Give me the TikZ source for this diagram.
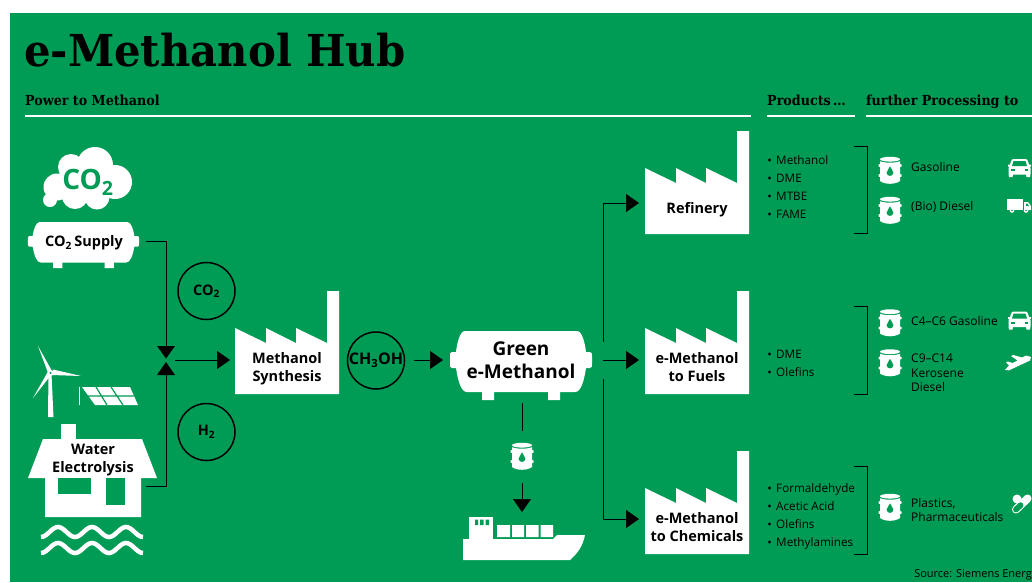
\documentclass[tikz,border=0pt]{standalone}
\usepackage{fontspec}
\setmainfont{Open Sans}
\newfontfamily\headfont[FakeStretch=0.92]{DejaVu Serif}
\newfontfamily\titlefont[FakeStretch=0.95]{DejaVu Serif}
\usepackage{tikz}
\usetikzlibrary{arrows.meta}
\definecolor{hubgreen}{HTML}{009B55}
\newcommand{\sub}[1]{\textsubscript{#1}}
\tikzset{
	flow/.style={black,line width=0.6pt},
	flowtip/.style={flow,-{Triangle[length=13pt,width=18pt]}},
	boxtext/.style={align=center,inner sep=0pt,font=\fontsize{14.5}{18}\selectfont\bfseries},
	listtext/.style={align=left,anchor=base west,inner sep=0pt,font=\fontsize{11.7}{18}\selectfont},
	sidetext/.style={align=left,anchor=west,inner sep=0pt,font=\fontsize{12}{14.5}\selectfont},
	headtext/.style={anchor=base west,inner sep=0pt,font=\headfont\bfseries\fontsize{13.8}{14}\selectfont},
	headline/.style={white,line width=2pt},
	ring/.style={draw=black,line width=1.5pt,circle,minimum size=57pt,inner sep=0pt,font=\fontsize{14.5}{14.5}\selectfont\bfseries},
	factory/.pic={
		\fill[white] (0,0)--(0,-66)--(31,-51)--(31,-66)--(61,-51)--(61,-66)--(92,-51)--(92,-103)--(104,-103)--(104,0)--cycle;
	},
	tank/.pic={
		\fill[white] (-56,0)--(56,0) .. controls (61,0) and (64,12) .. (65,21)--(69,21)
			.. controls (71,21) and (71,23) .. (71,25)--(71,33) .. controls (71,35) and (71,37) .. (69,37)--(65,37)
			.. controls (63,50) and (60,61) .. (54,61)--(39,61)--(39,69)--(27,69)--(27,61)--(-27,61)--(-27,69)--(-39,69)--(-39,61)--(-54,61)
			.. controls (-60,61) and (-63,50) .. (-65,37)--(-69,37) .. controls (-71,37) and (-71,35) .. (-71,33)--(-71,25)
			.. controls (-71,23) and (-71,21) .. (-69,21)--(-65,21) .. controls (-64,12) and (-61,0) .. (-56,0)--cycle;
	},
	barrel/.pic={
		\fill[white] (0,-11.3) ellipse (10 and 2.4);
		\fill[white] (-10,-9.3) .. controls (-5,-7.3) and (5,-7.3) .. (10,-9.3)--(10,-6.5)--(11.5,-6)--(11.5,-4)--(10,-3.5)--(10,3.5)--(11.5,4)--(11.5,6)--(10,6.5)--(10,10.5)
			.. controls (5,14.2) and (-5,14.2) .. (-10,10.5)--(-10,6.5)--(-11.5,6)--(-11.5,4)--(-10,3.5)--(-10,-3.5)--(-11.5,-4)--(-11.5,-6)--(-10,-6.5)--cycle;
		\fill[hubgreen] (0,-4.2) .. controls (0.8,-1.5) and (3.4,0) .. (3.4,2.2) .. controls (3.4,4.4) and (1.6,5.4) .. (0,5.4) .. controls (-1.6,5.4) and (-3.4,4.4) .. (-3.4,2.2) .. controls (-3.4,0) and (-0.8,-1.5) .. (0,-4.2)--cycle;
	},
	car/.pic={
		\fill[white] (-6,-9) -- (6,-9) .. controls (7.5,-9) and (8,-8) .. (8.5,-6.5)--(9.5,-3.5)--(11.5,-3.5)--(11.5,-1.5)--(10,-1.5)--(11,0)--(11,6)--(10.5,9)--(7,9)--(6.5,6.5)--(-6.5,6.5)--(-7,9)--(-10.5,9)--(-11,6)--(-11,0)--(-10,-1.5)--(-11.5,-1.5)--(-11.5,-3.5)--(-9.5,-3.5)--(-8.5,-6.5) .. controls (-8,-8) and (-7.5,-9) .. (-6,-9)--cycle;
		\fill[hubgreen] (-6,-7) -- (6,-7)--(7.5,-2)--(-7.5,-2)--cycle;
		\fill[hubgreen] (-8.5,1) rectangle (-5,3);
		\fill[hubgreen] (8.5,1) rectangle (5,3);
	},
	truck/.pic={
		\fill[white] (-12,-7) rectangle (4,4);
		\fill[white] (5,-4)--(9,-4)--(12,0)--(12,4)--(5,4)--cycle;
		\fill[hubgreen] (7,-2.5)--(8.5,-2.5)--(10,0)--(7,0)--cycle;
		\fill[white] (-7,4.5) circle (2.3);
		\fill[white] (7,4.5) circle (2.3);
		\fill[hubgreen] (-7,4.5) circle (0.9);
		\fill[hubgreen] (7,4.5) circle (0.9);
	},
	plane/.pic={
		\fill[white] (-13,7.5)--(-9,7.8)--(12,-2)--(13,-5.5)--(8,-7)--(4,-5)--(-4.5,-7.5)--(-7,-6.5)--(-0.5,-2)--(-5.5,0.5)--(-10,-1)--(-12,0)--(-9,3)--cycle;
	},
	pill/.pic={
		\fill[white] (-4.5,-5.5) circle (4.5);
		\draw[white,line width=8pt,line cap=round] (-5.5,5)--(6,-6);
		\draw[hubgreen,line width=5.8pt,line cap=round] (-5.5,5)--(-1,0.7);
	},
	wave/.pic={
		\draw[white,line width=4.5pt] plot[domain=0:3,samples=61] ({34*\x},{5*cos(360*\x)});
	}
}
\begin{document}
\begin{tikzpicture}[x=1pt,y=-1pt]
	\useasboundingbox (0,0) rectangle (1032,582);
	\fill[white] (0,0) rectangle (1032,582);
	\fill[hubgreen] (10,13) rectangle (1032,582);

	%heads
	\node[anchor=base west,inner sep=0pt,font=\titlefont\bfseries\fontsize{44}{44}\selectfont] (title) at (24,66) {e-Methanol Hub};
	\node[headtext] (powerhead) at (25,105.5) {Power to Methanol};
	\node[headtext] (producthead) at (767,105.5) {Products\,…};
	\node[headtext] (furtherhead) at (866,105.5) {further Processing to};
	\draw[headline] (25,115.5)--(751,115.5);
	\draw[headline] (767,115.5)--(855,115.5);
	\draw[headline] (866,115.5)--(1032,115.5);

	%cloud
	\fill[white] (95,165) circle (18) (71,167) circle (13) (115,182) circle (17) (97,197) circle (12.5) (57,187) circle (13.5) (75,196) circle (13) (50,200) circle (7) (85,180) circle (20);
	\node[inner sep=0pt,text=hubgreen,font=\fontsize{28}{28}\selectfont\bfseries] (cloudgas) at (88,182.5) {CO\sub{2}};

	%tanks
	\pic[xscale=0.782,yscale=0.667] at (83.5,222) {tank};
	\node[boxtext] (supply) at (84,243) {CO\sub{2}\,Supply};
	\pic at (521,331) {tank};
	\node[boxtext,font=\fontsize{19}{22.5}\selectfont\bfseries] (green) at (521,360) {Green\\e-Methanol};

	%wind and sun
	\fill[white] (48.5,374)--(51.5,374)--(53.5,417)--(48,417)--cycle;
	\fill[white] (38,346)--(52,371)--(48.5,374)--cycle;
	\fill[white] (81,376)--(53,369.5)--(52,375)--cycle;
	\fill[white] (33,398)--(48,371.5)--(51,375)--cycle;
	\fill[white] (50.5,373) circle (3);
	\fill[hubgreen] (50.5,373) circle (1.1);
	\fill[white] (78.5,387) rectangle (80,405);
	\fill[white] (82,387)--(130,387)--(138,405)--(95,405)--cycle;
	\draw[hubgreen,line width=1.2pt] (86.5,396)--(134,396) (96,387)--(107,405) (111,387)--(123,405);

	%house
	\fill[white] (61,424) rectangle (76,441);
	\fill[white] (43,439)--(142,439)--(157,478)--(141,478)--(141,517)--(45,517)--(45,478)--(28,478)--cycle;
	\fill[hubgreen] (58,478) rectangle (91,494);
	\fill[hubgreen] (106,478) rectangle (125,505);
	\node[boxtext] (water) at (93,460) {Water\\Electrolysis};
	\pic at (41,532) {wave};
	\pic at (41,548) {wave};

	%factories
	\pic at (235,394) {factory};
	\pic at (645,234) {factory};
	\pic at (645,394) {factory};
	\pic at (645,554) {factory};
	\node[boxtext] (synthesis) at (287,369) {Methanol\\Synthesis};
	\node[boxtext] (refinery) at (697,210) {Refinery};
	\node[boxtext] (fuels) at (697,367) {e-Methanol\\to Fuels};
	\node[boxtext] (chemicals) at (697,527) {e-Methanol\\to Chemicals};

	%rings
	\node[ring] (cotwo) at (206.5,291) {CO\sub{2}};
	\node[ring] (htwo) at (206.5,432) {H\sub{2}};
	\node[ring,font=\fontsize{16}{16}\selectfont\bfseries] (methanol) at (376,360.5) {CH\sub{3}OH};

	%ship
	\pic at (522,456.5) {barrel};
	\fill[white] (469,517) rectangle (493,540);
	\fill[hubgreen] (475,519.5) rectangle (478,525) (480,519.5) rectangle (483.5,525) (485.5,519.5) rectangle (489,525);
	\fill[white] (497,525) rectangle (510,537) (512,525) rectangle (524,537) (526,525) rectangle (538.5,537) (540.5,525) rectangle (553,537);
	\fill[white] (463,539)--(553,539)--(557,535)--(585,535) .. controls (583,546) and (577,554) .. (570,560)--(463,560)--cycle;

	%free ends
	\coordinate (supplyout) at (146,241);
	\coordinate (waterout) at (146,486);
	\coordinate (valvetop) at (166,346);
	\coordinate (valvebot) at (166,375);
	\coordinate (valveout) at (175,360);
	\coordinate (synthin) at (230,360);
	\coordinate (methout) at (414,360);
	\coordinate (greenin) at (443,360);
	\coordinate (greenout) at (522,403);
	\coordinate (barrelin) at (522,431);
	\coordinate (barrelout) at (522,483);
	\coordinate (shipin) at (522,512);
	\coordinate (forktop) at (603,342);
	\coordinate (forkmid) at (603,360);
	\coordinate (forkbot) at (603,379);
	\coordinate (refin) at (639,203);
	\coordinate (fuelin) at (639,360);
	\coordinate (chemin) at (639,519);

	%lines
	\draw[flow] (supplyout)-|(valvetop);		%supply--valve
	\draw[flow] (waterout)-|(valvebot);			%water--valve
	\fill[black] (157,346)--(175,346)--(166,358.5)--cycle;
	\fill[black] (157,375)--(175,375)--(166,362)--cycle;
	\draw[flowtip] (valveout)--(synthin);		%valve--synthesis
	\draw[flowtip] (methout)--(greenin);		%methanol--green
	\draw[flow] (greenout)--(barrelin);			%green--barrel
	\draw[flowtip] (barrelout)--(shipin);		%barrel--ship
	\draw[flowtip] (forktop)|-(refin);			%fork--refinery
	\draw[flowtip] (forkmid)--(fuelin);			%fork--fuels
	\draw[flowtip] (forkbot)|-(chemin);			%fork--chemicals

	%products
	\foreach \name/\ypos/\word in {pa/164/Methanol,pb/182/DME,pc/200/MTBE,pd/218/FAME,pe/358/DME,pf/376/Olefins,pg/492/Formaldehyde,ph/510/Acetic Acid,pi/528/Olefins,pj/546/Methylamines}{
		\node[listtext] (\name) at (776,\ypos) {\word};
		\fill[black] (769.5,\ypos-4) circle (1.6);
	}

	%brackets
	\draw[flow] (854,146)-|(867,233)--(854,233);
	\draw[flow] (854,306)-|(867,394)--(854,394);
	\draw[flow] (854,466)-|(867,554)--(854,554);

	%barrels
	\pic at (890,170.5) {barrel};
	\pic at (890,210.5) {barrel};
	\pic at (890,323) {barrel};
	\pic at (890,363) {barrel};
	\pic at (890,507.5) {barrel};

	%further
	\node[sidetext] (gasoline) at (911,167) {Gasoline};
	\node[sidetext] (diesel) at (911,207) {(Bio) Diesel};
	\node[sidetext] (cfour) at (911,321) {C4–C6 Gasoline};
	\node[sidetext] (cnine) at (911,373) {C9–C14\\Kerosene\\Diesel};
	\node[sidetext] (plastics) at (911,510) {Plastics,\\Pharmaceuticals};
	\pic at (1019.5,168) {car};
	\pic at (1019,206) {truck};
	\pic at (1019.5,320.5) {car};
	\pic at (1018,362.5) {plane};
	\pic at (1021.5,504.5) {pill};

	\node[anchor=base east,inner sep=0pt,font=\fontsize{11}{11}\selectfont] (source) at (1032,577) {Source: Siemens Energ};
\end{tikzpicture}
\end{document}
